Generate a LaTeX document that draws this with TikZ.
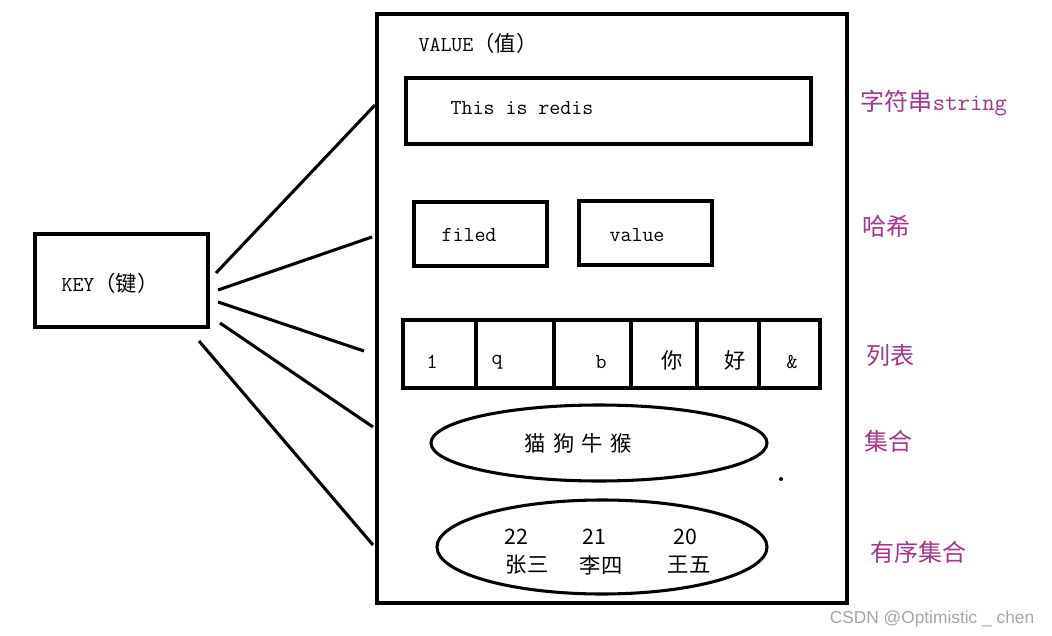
\documentclass[tikz,border=0pt]{standalone}
\usepackage{fontspec}
\setmainfont{Liberation Serif}
\newfontfamily\cjk{Noto Sans CJK SC}
\setmonofont{Latin Modern Mono}
\begin{document}
\begin{tikzpicture}[x=0.75pt,y=-0.75pt,
  box/.style={draw,line width=2.3pt},
  lab/.style={text=purple!75!blue!80!white,font=\cjk\fontsize{18}{18}\selectfont},
  txt/.style={font=\ttfamily\bfseries\fontsize{16}{16}\selectfont},
  ctxt/.style={font=\cjk\fontsize{16}{16}\selectfont},
  conn/.style={line width=2.3pt}]
\useasboundingbox[fill=white] (0,0) rectangle (1052,635);
\draw[box] (35,234) rectangle (208,327);
\node[txt] (key) at (110,283) {KEY{\cjk\mdseries（键）}};
\draw[box] (377,14) rectangle (847,603);
\node[txt] (val) at (478,43) {VALUE{\cjk\mdseries（值）}};
\draw[box] (406,78) rectangle (811,144);
\node[txt] (str) at (522,108) {This is redis};
\draw[box] (414,202) rectangle (547,266);
\node[txt] (f) at (469,235) {filed};
\draw[box] (579,201) rectangle (712,265);
\node[txt] (v) at (637,235) {value};
\draw[box] (403,320) rectangle (820,388);
\foreach \x in {476,554,631,697,759}{\draw[line width=2.3pt] (\x,320) -- (\x,388);}
\node[txt] (l1) at (432,362) {1};
\node[txt] (l2) at (497,362) {q};
\node[txt] (l3) at (601,362) {b};
\node[ctxt] (l4) at (672,360) {你};
\node[ctxt] (l5) at (735,360) {好};
\node[txt] (l6) at (792,362) {\&};
\draw[box] (599,443) ellipse [x radius=168,y radius=38];
\node[ctxt] (set) at (578,443) {猫\,\,狗\,\,牛\,\,猴};
\draw[box] (602,547) ellipse [x radius=165,y radius=47];
\node[ctxt] (s1) at (516,537) {22};
\node[ctxt] (s2) at (594,537) {21};
\node[ctxt] (s3) at (685,537) {20};
\node[ctxt] (n1) at (527,565) {张三};
\node[ctxt] (n2) at (601,565) {李四};
\node[ctxt] (n3) at (689,565) {王五};
\fill (781,479) circle (2);
\coordinate (a1) at (216,273); \coordinate (b1) at (375,105);
\coordinate (a2) at (218,290); \coordinate (b2) at (372,237);
\coordinate (a3) at (218,302); \coordinate (b3) at (364,351);
\coordinate (a4) at (220,323); \coordinate (b4) at (373,427);
\coordinate (a5) at (199,341); \coordinate (b5) at (373,545);
\foreach \i in {1,...,5}{\draw[conn] (a\i) -- (b\i);}
\node[lab] (t1) at (934,103) {字符串{\ttfamily string}};
\node[lab] (t2) at (886,226) {哈希};
\node[lab] (t3) at (890,355) {列表};
\node[lab] (t4) at (888,441) {集合};
\node[lab] (t5) at (918,552) {有序集合};
\node[text=gray!70,font=\fontspec{Liberation Sans}\fontsize{13}{13}\selectfont] (wm) at (932,619) {CSDN @Optimistic \_ chen};
\end{tikzpicture}
\end{document}
